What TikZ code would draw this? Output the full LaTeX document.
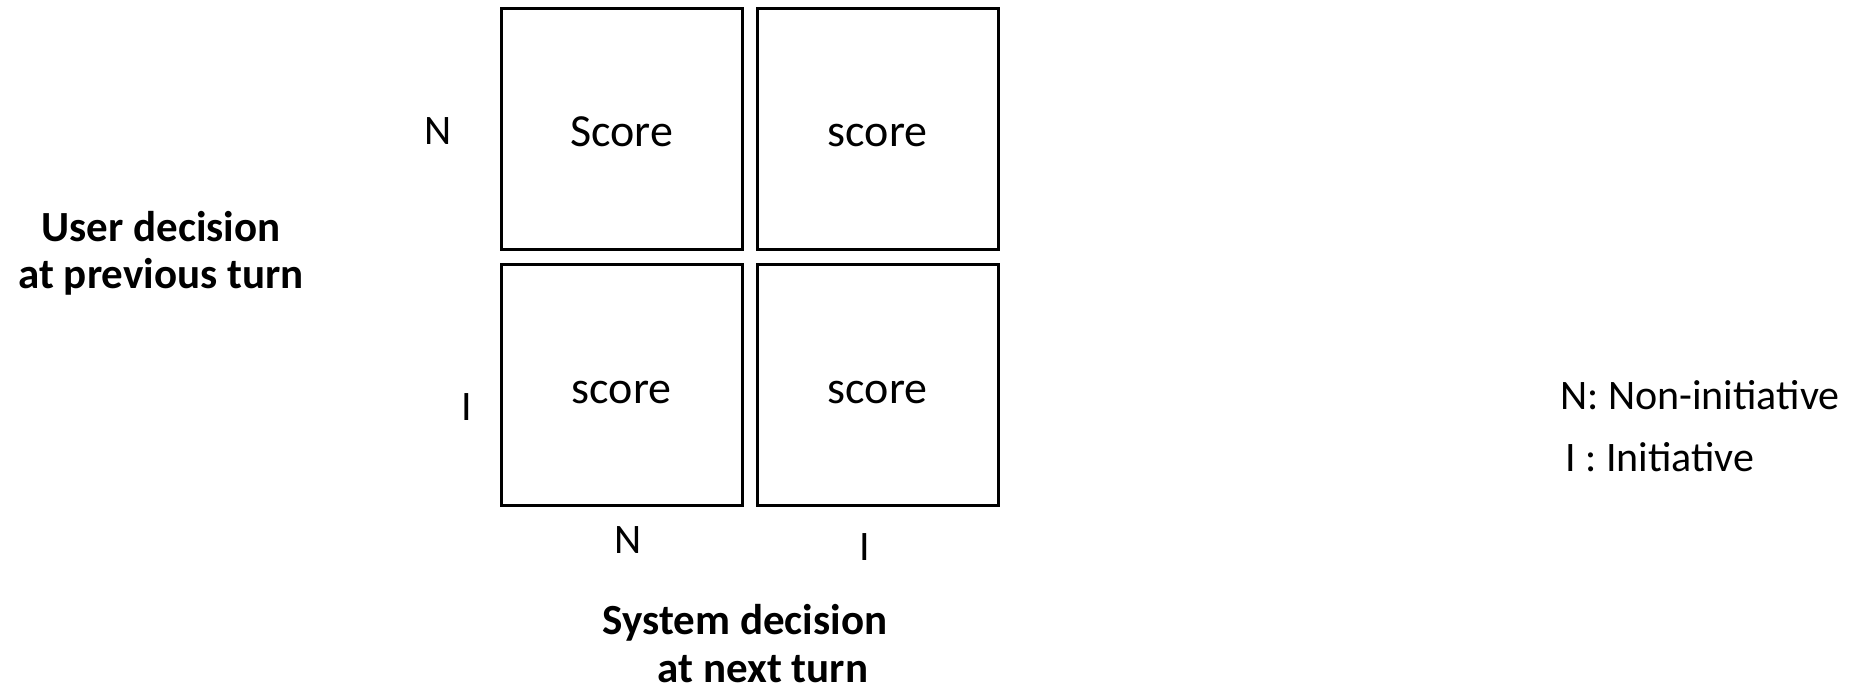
\documentclass[tikz,border=0pt]{standalone}
\usepackage{fontspec}
\setmainfont{Carlito}
\begin{document}
\begin{tikzpicture}[x=1pt,y=-1pt,
  cell/.style={draw=black,line width=3pt,minimum width=241pt,minimum height=241pt,inner sep=0pt},
  celltext/.style={inner sep=0pt,anchor=base,font=\fontsize{46}{55}\selectfont},
  lab/.style={inner sep=0pt,font=\fontsize{42}{50}\selectfont},
  blab/.style={inner sep=0pt,font=\fontsize{43}{50}\selectfont\bfseries}]
\useasboundingbox (0,0) rectangle (1870,688);
\node[cell] (b11) at (621.5,128.5) {};
\node[cell] (b12) at (877.5,128.5) {};
\node[cell] (b21) at (621.5,385) {};
\node[cell] (b22) at (877.5,385) {};
\node[celltext] (t11) at ([yshift=-140pt]b11.north) {Score};
\node[celltext] (t12) at ([yshift=-140pt]b12.north) {score};
\node[celltext] (t21) at ([yshift=-140pt]b21.north) {score};
\node[celltext] (t22) at ([yshift=-140pt]b22.north) {score};
\node[lab] (rn) at (438,131) {N};
\node[lab] (ri) at (467,407) {I};
\node[lab] (cn) at (628,540) {N};
\node[lab] (ci) at (865,547) {I};
\node[blab] (u1) at (161,227) {User decision};
\node[blab] (u2) at (161,277) {at previous turn};
\node[blab] (s1) at (745,623) {System decision};
\node[blab,anchor=base] (s2) at (763,682) {at next turn};
\node[lab,anchor=west] (l1) at (1560,395) {N: Non-initiative};
\node[lab,anchor=west] (l2) at (1565,457) {I : Initiative};
\end{tikzpicture}
\end{document}
